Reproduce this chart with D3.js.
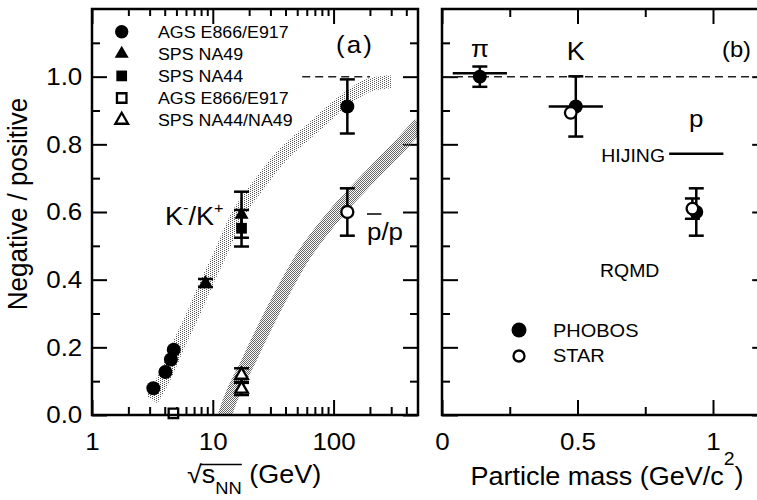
<!DOCTYPE html>
<html>
<head>
<meta charset="utf-8">
<script src="https://cdn.jsdelivr.net/npm/d3@7"></script>
<style>
body { margin: 0; background: #fff; }
text { font-family: "Liberation Sans", Arial, Helvetica, sans-serif; fill: #000; }
</style>
</head>
<body>
<svg id="chart" width="757" height="500"></svg>
<script>
// ---- panel (a): negative/positive ratio vs sqrt(s_NN) ----
var kAgs   = [[3.22, 0.079], [4.05, 0.127], [4.5, 0.164], [4.75, 0.193]];
var kNa49  = [[8.7, 0.39, 0.012], [17.3, 0.592, 0.068]];
var kNa44  = [[17.3, 0.552, 0.054]];
var pAgs   = [[4.72, 0.005]];
var pSps   = [[17.3, 0.118, 0.02], [17.3, 0.077, 0.018]];
var rhicK  = [[130, 0.912, 0.08]];
var rhicP  = [[130, 0.60, 0.07]];
var unityA = [[55, 1.0], [200, 1.0]];

// shaded systematics bands (centre lines)
var kBand = [[3.14, 0.044], [3.99, 0.112], [5.31, 0.213], [7.13, 0.311], [8.89, 0.391],
             [10.96, 0.459], [16, 0.59], [24, 0.68], [34, 0.75], [69, 0.852],
             [125, 0.932], [201, 0.976], [300, 0.985]];
var pBand = [[11.6, -0.05], [12.65, 0.0], [20, 0.163], [31.8, 0.311], [53.7, 0.459],
             [111, 0.607], [207, 0.71], [363, 0.8], [520, 0.86]];

var legendA      = ["AGS E866/E917", "SPS NA49", "SPS NA44", "AGS E866/E917", "SPS NA44/NA49"];
var legendShapes = ["circle", "triangle", "square", "square", "triangle"];
var legendFilled = [true, true, true, false, false];

// ---- panel (b): ratio vs particle mass ----
var species     = ["\u03c0", "K", "p"];
var masses      = [0.1396, 0.4937, 0.9383];
var phobosRatio = [1.00, 0.912, 0.60];
var phobosErr   = [0.03, 0.089, 0.07];
var starMass    = [0.475, 0.924];
var starRatio   = [0.893, 0.61];
var starErr     = [0, 0.03];
var hijingRatio = [1.01, 0.912, 0.772];
var hijingHalf  = 0.1;

// ticks
var logMajor = [1, 10, 100];
var logMinor = [2, 3, 4, 5, 6, 7, 8, 9, 20, 30, 40, 50, 60, 70, 80, 90, 200, 300, 400];
var yMajor = [0, 0.2, 0.4, 0.6, 0.8, 1.0];
var yMinor = [0.1, 0.3, 0.5, 0.7, 0.9, 1.1];
var mMajor = [0, 0.5, 1];
var mMinor = [0.25, 0.75];

var SX = 1.08;   // text in the figure is a bit wide
var svg = d3.select("#chart");

var yS = d3.scaleLinear().domain([0, 1.2]).range([415, 9]);
var xA = d3.scaleLog().domain([1, 500]).range([92, 418]);
var xB = d3.scaleLinear().domain([0, 1.2]).range([442, 767.2]);

var defs = svg.append("defs");
var pk = defs.append("pattern").attr("id", "dotsK").attr("patternUnits", "userSpaceOnUse")
    .attr("width", 4).attr("height", 2);
pk.append("rect").attr("x", 0).attr("y", 0).attr("width", 1).attr("height", 1).attr("fill", "#555");
pk.append("rect").attr("x", 2).attr("y", 1).attr("width", 1).attr("height", 1).attr("fill", "#555");
var pp = defs.append("pattern").attr("id", "dotsP").attr("patternUnits", "userSpaceOnUse")
    .attr("width", 2).attr("height", 2);
pp.append("rect").attr("x", 0).attr("y", 0).attr("width", 1).attr("height", 1).attr("fill", "#666");
pp.append("rect").attr("x", 1).attr("y", 1).attr("width", 1).attr("height", 1).attr("fill", "#666");
defs.append("clipPath").attr("id", "clipA").append("rect")
    .attr("x", 92).attr("y", 9).attr("width", 326).attr("height", 406);
defs.append("clipPath").attr("id", "clipB").append("rect")
    .attr("x", 442).attr("y", 9).attr("width", 330).attr("height", 406);

function textAt(x, y, size, anchor, rotate) {
  var g = svg.append("g").attr("transform", "translate(" + x + "," + y + ") scale(" + SX + ",1)" +
                                            (rotate ? " rotate(" + rotate + ")" : ""));
  return g.append("text").attr("text-anchor", anchor || "start").style("font-size", size + "px");
}

function addAxis(axis, tx, ty) {
  var g = svg.append("g").attr("transform", "translate(" + tx + "," + ty + ")").call(axis);
  g.select(".domain").remove();
  g.selectAll("line").attr("stroke-width", 2);
  g.selectAll("text").style("font-size", "24px").attr("transform", "scale(" + SX + ",1)");
  return g;
}

// axes panel (a)
addAxis(d3.axisBottom(xA).tickValues(logMajor).tickSize(-15).tickPadding(18).tickFormat(function(d){ return d; }), 0, 415);
addAxis(d3.axisBottom(xA).tickValues(logMinor).tickSize(-8).tickFormat(""), 0, 415);
addAxis(d3.axisTop(xA).tickValues(logMajor).tickSize(-15).tickFormat(""), 0, 9);
addAxis(d3.axisTop(xA).tickValues(logMinor).tickSize(-7).tickFormat(""), 0, 9);
addAxis(d3.axisLeft(yS).tickValues(yMajor).tickSize(-15).tickPadding(9).tickFormat(d3.format(".1f")), 92, 0);
addAxis(d3.axisLeft(yS).tickValues(yMinor).tickSize(-8).tickFormat(""), 92, 0);
addAxis(d3.axisRight(yS).tickValues(yMajor).tickSize(-15).tickFormat(""), 418, 0);
addAxis(d3.axisRight(yS).tickValues(yMinor).tickSize(-8).tickFormat(""), 418, 0);

// axes panel (b)
addAxis(d3.axisBottom(xB).tickValues(mMajor).tickSize(-15).tickPadding(18).tickFormat(function(d){ return String(d); }), 0, 415);
addAxis(d3.axisBottom(xB).tickValues(mMinor).tickSize(-8).tickFormat(""), 0, 415);
addAxis(d3.axisTop(xB).tickValues(mMajor).tickSize(-15).tickFormat(""), 0, 9);
addAxis(d3.axisTop(xB).tickValues(mMinor).tickSize(-8).tickFormat(""), 0, 9);
addAxis(d3.axisLeft(yS).tickValues(yMajor).tickSize(-16).tickFormat(""), 442, 0);
addAxis(d3.axisLeft(yS).tickValues(yMinor).tickSize(-8).tickFormat(""), 442, 0);
addAxis(d3.axisRight(yS).tickValues(yMajor).tickSize(-15).tickFormat(""), 767.2, 0);
addAxis(d3.axisRight(yS).tickValues(yMinor).tickSize(-8).tickFormat(""), 767.2, 0);

// bands
var lineA = d3.line().x(function(d){ return xA(d[0]); }).y(function(d){ return yS(d[1]); })
              .curve(d3.curveMonotoneX);
var bands = svg.append("g").attr("clip-path", "url(#clipA)");
bands.append("path").attr("d", lineA(kBand)).attr("fill", "none")
     .attr("stroke", "url(#dotsK)").attr("stroke-width", 13);
bands.append("path").attr("d", lineA(pBand)).attr("fill", "none")
     .attr("stroke", "url(#dotsP)").attr("stroke-width", 14);

// unity lines
svg.append("path").attr("d", d3.line().x(function(d){ return xA(d[0]); }).y(function(d){ return yS(d[1]); })(unityA))
   .attr("stroke", "#222").attr("stroke-width", 1.5).attr("stroke-dasharray", "8,5").attr("fill", "none");
svg.append("line").attr("clip-path", "url(#clipB)")
   .attr("x1", xB(0)).attr("x2", xB(1.2)).attr("y1", yS(1)).attr("y2", yS(1))
   .attr("stroke", "#222").attr("stroke-width", 1.5).attr("stroke-dasharray", "8,5");

function errBars(px, py, e) {
  if (!e) return;
  var g = svg.append("g").attr("stroke", "#000").attr("stroke-width", 2.5);
  g.append("line").attr("x1", px).attr("x2", px).attr("y1", yS(py - e)).attr("y2", yS(py + e));
  [py - e, py + e].forEach(function(v) {
    g.append("line").attr("x1", px - 7.5).attr("x2", px + 7.5).attr("y1", yS(v)).attr("y2", yS(v));
  });
}

function marker(shape, filled, cx, cy, r) {
  var m;
  if (shape === "circle") {
    m = svg.append("circle").attr("cx", cx).attr("cy", cy).attr("r", r || (filled ? 7 : 6));
  } else {
    var type = shape === "triangle" ? d3.symbolTriangle : d3.symbolSquare;
    var size = shape === "triangle" ? (filled ? 85 : 70) : (filled ? 115 : 90);
    m = svg.append("path").attr("d", d3.symbol().type(type).size(size)())
           .attr("transform", "translate(" + cx + "," + cy + ")");
  }
  m.attr("fill", filled ? "#000" : "#fff").attr("stroke", "#000").attr("stroke-width", filled ? 0 : 2.3);
  return m;
}

function series(data, shape, filled) {
  data.forEach(function(d) { errBars(xA(d[0]), d[1], d[2]); });
  data.forEach(function(d) { marker(shape, filled, xA(d[0]), yS(d[1])); });
}

series(kAgs, "circle", true);
series(kNa49, "triangle", true);
series(kNa44, "square", true);
series(pAgs, "square", false);
series(pSps, "triangle", false);
series(rhicK, "circle", true);
series(rhicP, "circle", false);

// legend (a)
legendA.forEach(function(name, i) {
  var cy = 31.7 + i * 22.1;
  marker(legendShapes[i], legendFilled[i], 121.7, cy, 6.7);
  textAt(158, cy + 6, 16.5, "start").text(name);
});

textAt(336, 53, 24, "start").style("letter-spacing", "2px").text("(a)");

// K-/K+ label
var kl = textAt(165, 225, 25, "start");
kl.append("tspan").text("K");
kl.append("tspan").attr("dy", -12).style("font-size", "15px").text("-");
kl.append("tspan").attr("dy", 12).text("/K");
kl.append("tspan").attr("dy", -12).style("font-size", "15px").text("+");

// pbar/p label
var pl = textAt(367, 240, 24, "start").text("p/p");
var pe = pl.node().getExtentOfChar(0);
d3.select(pl.node().parentNode).append("line")
  .attr("x1", pe.x).attr("x2", pe.x + pe.width).attr("y1", -26).attr("y2", -26)
  .attr("stroke", "#000").attr("stroke-width", 1.5);

// panel (b) marks
hijingRatio.forEach(function(v, i) {
  svg.append("line").attr("x1", xB(masses[i] - hijingHalf)).attr("x2", xB(masses[i] + hijingHalf))
     .attr("y1", yS(v)).attr("y2", yS(v)).attr("stroke", "#000").attr("stroke-width", 2.5);
});
masses.forEach(function(m, i) { errBars(xB(m), phobosRatio[i], phobosErr[i]); });
masses.forEach(function(m, i) { marker("circle", true, xB(m), yS(phobosRatio[i]), 7); });
starMass.forEach(function(m, i) { errBars(xB(m), starRatio[i], starErr[i]); });
starMass.forEach(function(m, i) { marker("circle", false, xB(m), yS(starRatio[i]), 5.8); });

textAt(xB(masses[0]), yS(1.059), 24, "middle").text(species[0]);
textAt(xB(masses[1]), yS(1.05), 25, "middle").text(species[1]);
textAt(xB(masses[2]), yS(0.852), 24, "middle").text(species[2]);

textAt(665, 162, 18, "end").text("HIJING");
textAt(600, 277, 18, "start").text("RQMD");
textAt(722, 57, 22, "start").text("(b)");

// legend (b)
marker("circle", true, 519, 330, 7.5);
textAt(553, 337, 18.5, "start").text("PHOBOS");
marker("circle", false, 519, 356, 5.5);
textAt(553, 362, 18.5, "start").text("STAR");

// frames
svg.append("rect").attr("x", 92).attr("y", 9).attr("width", 326).attr("height", 406)
   .attr("fill", "none").attr("stroke", "#000").attr("stroke-width", 2.5);
svg.append("rect").attr("x", 442).attr("y", 9).attr("width", 325.2).attr("height", 406)
   .attr("fill", "none").attr("stroke", "#000").attr("stroke-width", 2.5);

// axis titles
textAt(27, 204, 26, "middle", -90).text("Negative / positive");

var sq = textAt(187, 483, 25, "start");
sq.append("tspan").text("\u221as");
sq.append("tspan").attr("dy", 11).style("font-size", "17px").text("NN");
sq.append("tspan").attr("dy", -11).text(" (GeV)");
var s0 = sq.node().getExtentOfChar(0), s3 = sq.node().getExtentOfChar(3);
d3.select(sq.node().parentNode).append("line")
  .attr("x1", s0.x + s0.width - 1).attr("x2", s3.x + s3.width).attr("y1", -18.5).attr("y2", -18.5)
  .attr("stroke", "#000").attr("stroke-width", 1.5);

var mt = textAt(607, 485, 25, "middle");
mt.append("tspan").text("Particle mass (GeV/c");
mt.append("tspan").attr("dy", -20).style("font-size", "18px").text("2");
mt.append("tspan").attr("dy", 20).text(")");
</script>
</body>
</html>
